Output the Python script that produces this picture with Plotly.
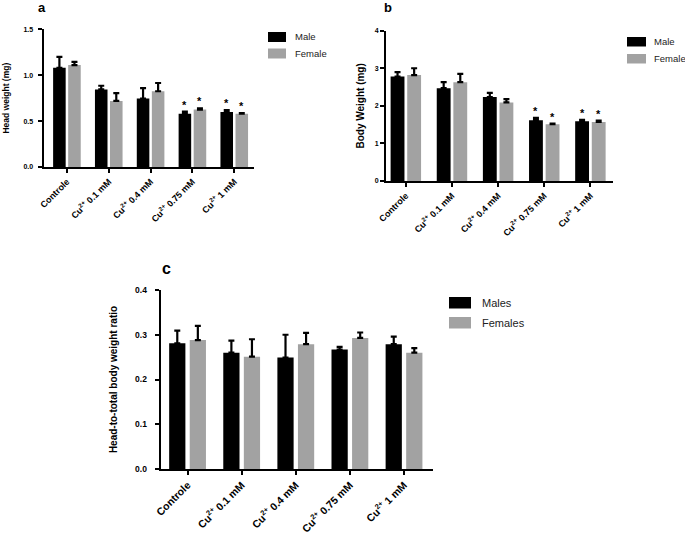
import plotly.graph_objects as go

W, H = 685, 541

categories = ["Controle", "Cu<sup>2+</sup> 0.1 mM", "Cu<sup>2+</sup> 0.4 mM", "Cu<sup>2+</sup> 0.75 mM", "Cu<sup>2+</sup> 1 mM"]

# Panel a: head weight (mg)
head_male = [1.08, 0.845, 0.745, 0.58, 0.60]
head_male_err = [0.12, 0.04, 0.115, 0.024, 0.02]
head_female = [1.11, 0.72, 0.825, 0.625, 0.58]
head_female_err = [0.035, 0.085, 0.09, 0.015, 0.006]
head_sig = [False, False, False, True, True]

# Panel b: body weight (mg)
body_male = [2.78, 2.47, 2.235, 1.62, 1.59]
body_male_err = [0.12, 0.16, 0.11, 0.06, 0.035]
body_female = [2.82, 2.63, 2.09, 1.51, 1.57]
body_female_err = [0.18, 0.22, 0.09, 0.015, 0.035]
body_sig = [False, False, False, True, True]

# Panel c: head-to-total body weight ratio
ratio_male = [0.281, 0.26, 0.249, 0.267, 0.279]
ratio_male_err = [0.028, 0.027, 0.051, 0.006, 0.017]
ratio_female = [0.288, 0.251, 0.279, 0.293, 0.26]
ratio_female_err = [0.032, 0.039, 0.025, 0.012, 0.01]

names_ab = ["Male", "Female"]
names_c = ["Males", "Females"]

BLACK = "#000000"
GRAY = "#a2a2a2"
FONT = "Liberation Sans, Arial, sans-serif"

def px_x(x):
    return x / W

def px_y(y):
    return 1 - y / H

xs = list(range(len(categories)))

fig = go.Figure()

panels = [
    ("", head_male, head_male_err, head_female, head_female_err, names_ab, 0.30, -0.33, 0.03, head_sig),
    ("2", body_male, body_male_err, body_female, body_female_err, names_ab, 0.30, -0.33, 0.03, body_sig),
    ("3", ratio_male, ratio_male_err, ratio_female, ratio_female_err, names_c, 0.30, -0.34, 0.04, None),
]

for suf, m, me, f, fe, nm, w, om, of, sig in panels:
    for vals, errs, color, name, off in [(m, me, BLACK, nm[0], om), (f, fe, GRAY, nm[1], of)]:
        fig.add_trace(go.Bar(
            x=xs, y=vals, name=name, width=w, offset=off,
            marker=dict(color=color, line=dict(width=0)),
            error_y=dict(type="data", array=errs, arrayminus=[0] * len(errs), symmetric=False,
                         color=BLACK, thickness=2.2, width=3),
            xaxis="x" + suf, yaxis="y" + suf, showlegend=False,
        ))
    if sig:
        for i, s in enumerate(sig):
            if s:
                for vals, errs, off in [(m, me, om), (f, fe, of)]:
                    fig.add_annotation(
                        x=i + off + w / 2, y=vals[i] + errs[i], xref="x" + suf, yref="y" + suf,
                        text="*", showarrow=False, yanchor="bottom", yshift=-1,
                        font=dict(family=FONT, size=11, color=BLACK, weight="bold"),
                    )

axis_common = dict(
    showgrid=False, zeroline=False, showline=True, linecolor=BLACK, linewidth=1.8,
    ticks="outside", ticklen=4, tickwidth=1.5, tickcolor=BLACK, automargin=False,
)

def xaxis(domain, rng, anchor, size):
    return dict(axis_common, domain=domain, range=rng, anchor=anchor,
                tickmode="array", tickvals=xs, ticktext=categories, tickangle=-45,
                tickfont=dict(family=FONT, size=size, color=BLACK, weight="bold"))

def yaxis(domain, rng, anchor, dtick, fmt, size, title, tsize, standoff, lblstand):
    return dict(axis_common, domain=domain, range=rng, anchor=anchor, dtick=dtick,
                tickformat=fmt, tick0=0, ticklabelstandoff=lblstand,
                tickfont=dict(family=FONT, size=size, color=BLACK, weight="bold"),
                title=dict(text=title, font=dict(family=FONT, size=tsize, color=BLACK, weight="bold"),
                           standoff=standoff))

fig.update_layout(
    width=W, height=H, margin=dict(l=0, r=0, t=0, b=0, autoexpand=False),
    paper_bgcolor="white", plot_bgcolor="white", barmode="overlay",
    xaxis=xaxis([px_x(43.5), px_x(253.5)], [-0.56, 4.46], "y", 9),
    yaxis=yaxis([px_y(167), px_y(29.3)], [0, 1.5], "x", 0.5, ".1f", 7, "Head weight (mg)", 8.5, 12, 3),
    xaxis2=xaxis([px_x(386), px_x(613)], [-0.43, 4.49], "y2", 9),
    yaxis2=yaxis([px_y(181), px_y(30.7)], [0, 4], "x2", 1, "d", 7, "Body Weight (mg)", 10, 8, 0),
    xaxis3=xaxis([px_x(160.5), px_x(432.7)], [-0.50, 4.53], "y3", 10.5),
    yaxis3=yaxis([px_y(469), px_y(290)], [0, 0.4], "x3", 0.1, ".1f", 8.5, "Head-to-total body weight ratio", 10, 16, 6),
)

# Panel letters
for txt, x, y, s in [("a", 41.5, 7.5, 13), ("b", 387.5, 7.5, 13), ("c", 166, 268, 16)]:
    fig.add_annotation(x=px_x(x), y=px_y(y), xref="paper", yref="paper", text=txt, showarrow=False,
                       xanchor="center", yanchor="middle",
                       font=dict(family=FONT, size=s, color=BLACK, weight="bold"))

# Legends (boxes + text)
legends = [
    (names_ab, 268, 286, [(32, 42), (48.5, 58.5)], 293, 9.5),
    (names_ab, 627, 646, [(37, 46.5), (54, 63.5)], 652, 9.5),
    (names_c, 449, 471, [(297, 308.5), (317, 328.5)], 480, 11),
]
for nm, x0, x1, rows, tx, fs in legends:
    for (y0, y1), name, color in zip(rows, nm, [BLACK, GRAY]):
        fig.add_shape(type="rect", xref="paper", yref="paper",
                      x0=px_x(x0), x1=px_x(x1), y0=px_y(y1), y1=px_y(y0),
                      fillcolor=color, line=dict(width=0))
        fig.add_annotation(x=px_x(tx), y=px_y((y0 + y1) / 2), xref="paper", yref="paper",
                           text=name, showarrow=False, xanchor="left", yanchor="middle",
                           font=dict(family=FONT, size=fs, color="#222222"))

fig.write_html(
    "out.html",
    config={"displayModeBar": False},
    post_script="document.documentElement.style.margin='0';document.body.style.margin='0';"
                "document.body.style.overflow='hidden';",
)
